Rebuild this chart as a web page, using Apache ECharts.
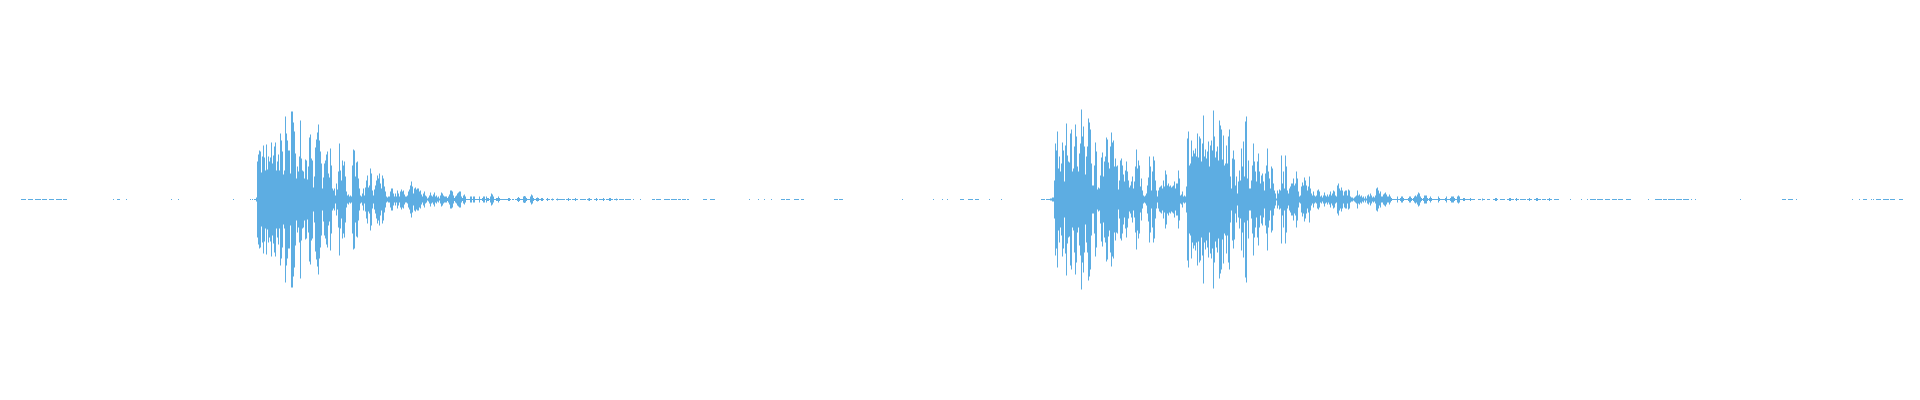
<!DOCTYPE html>
<html>
<head>
<meta charset="utf-8">
<script src="https://cdn.jsdelivr.net/npm/echarts@6/dist/echarts.min.js"></script>
<style>
  html, body { margin: 0; padding: 0; background: #ffffff; }
  #chart { width: 1920px; height: 400px; }
</style>
</head>
<body>
<div id="chart"></div>
<script>
// Waveform peak amplitudes (one value per time column)
const burst1Start = 256;
const burst1 = [
  2,38,45,49,48,27,43,54,42,29,
  55,30,43,38,42,57,36,44,53,57,
  29,38,45,29,66,59,48,25,29,83,
  66,59,49,49,26,88,88,77,68,46,
  21,33,28,43,79,41,29,28,21,40,
  39,20,33,62,65,41,39,12,23,52,
  60,67,75,59,48,36,11,22,36,39,
  45,48,26,22,51,34,11,9,11,4,
  16,10,28,56,
  29,19,39,34,38,23,8,4,5,3,
  4,3,34,50,49,23,37,38,21,11,
  4,3,6,11,4,12,19,24,12,14,
  31,26,9,4,10,14,19,24,21,26,
  16,11,24,21,13,8,3,2,3,3,
  8,11,11,6,3,6,3,9,6,3,
  8,10,8,9,5,3,3,4,8,10,
  14,18,13,6,11,12,10,11,11,8,
  9,5,3,6,8,4,3,1,2,4,
  7,4,3,5,7,3,4,2,3,1,
  4,7,6,4,3,3,3,1.5,3,5,
  9,9,8,4,1.5,3,4,6,7,8,
  8,3,1.5,4,5,3,0.5,0.5,0.5,0.5,
  3,3,0.5,3,3,0.5,0.5,0.5,0.5,3,
  0.5,0.5,1.5,3,3,0.5,3,1.5,1.5,0.5,
  3,6,5,3,0.5,0.5,1.5,1.5,3,1.5,
  0.5,0.5,0.5,0.5,0.5,0.5,
  0.5,0.5,1.5,1.5,0.5,0,0.5,0.5,0,0.5,
  0.5,1.5,2.5,1.5,0.5,0.5,0.5,3,3.5,3,
  1.5,0.5,0.5,0.5,3,5,4,1.5,0.5,0.5,
  1.5,2,1.5,0.5,0.5,1.5,1.5,0.5,0,0,
  0.5,1.5,0.5,0.5,0,0.5,1,0.5,0,0,
  0.5,1,0.5,0.5,0.5,0.5,0.5,0.5,0.5,0,
  0.5,0.5,1.5,0.5,0.5,0,0.5,0.5,0.5,1.5,
  0.5,0.5,0,0,0.5,0.5,0.5,0.5,0.5,0.5,
  0,0.5,1,1.5,0.5,0.5,0,0,0.5,0.5,
  1.5,0.5,0,0.5,0.5,0.5,0.5,1.5,0.5,0,
  0.5,0.5,0.5,1.5,1.5,0.5,0.5,0,0.5,0.5,
  1,0.5,0,0.5,0.5,0.5,0.5,0.5,0,0.5,
  0.5,0.5,0.5,0.5,0.5,0,0,0.5
];

const burst2Start = 1050;
const burst2 = [
  1,1,2,2,
  19,56,49,68,31,43,28,36,57,49,
  18,54,76,44,38,37,66,70,28,31,
  53,75,63,33,28,46,56,90,63,73,
  53,25,43,53,81,77,70,36,14,14,
  34,57,48,10,12,11,24,42,47,23,
  38,43,62,60,37,31,53,67,57,59,
  33,41,33,34,10,19,39,41,34,25,
  18,29,38,28,19,12,14,18,23,11,
  18,33,50,31,39,34,13,21,9,4,
  3,4,6,14,22,43,33,9,28,43,
  39,19,9,3,9,12,13,14,11,19,
  13,29,25,14,16,13,14,12,13,14,
  18,11,16,16,29,21,4,5,8,3,
  4,3,13,61,68,34,36,59,43,49,
  46,51,43,66,42,63,61,38,56,84,
  43,50,41,48,58,33,54,59,49,89,
  63,42,48,53,39,79,74,70,40,64,
  34,36,54,36,63,70,23,11,41,49,
  40,14,23,6,18,29,
  19,51,33,58,23,78,83,21,39,11,
  11,19,34,56,38,28,18,38,46,28,
  16,24,26,18,9,26,34,51,28,21,
  11,33,31,16,9,6,1,9,6,10,
  9,44,16,28,11,44,33,9,6,11,
  13,16,16,21,14,16,28,21,8,3,
  4,13,17,14,22,19,14,9,13,23,
  11,6,4,8,4,3,4,9,10,8,
  3,4,2,4,7,4,3,5,3,5,
  8,4,6,9,8,4,3,14,16,11,
  9,12,9,4,8,9,9,4,10,9,
  3,2,2,1,2,3,4,9,4,5,
  3,4,2,3,1,3,1,4,5,3,
  6,4,2,3,2,4,11,12,9,6,
  8,3,3,5,6,7,5,3,3,5,
  3,1.5,0.5,0.5,0.5,0.5,0.5,3,0.5,0.5,
  1.5,3,3,1.5,0.5,0.5,0.5,0.5,1.5,3,
  3,1.5,0.5,1.5,3,4,3,5,7,6,
  3,1.5,0.5,1.5,4,4,4,1.5,0.5,1.5,
  3,1.5,0.5,0.5,0.5,0.5,0.5,0.5,3,1.5,
  0.5,0.5,0.5,0.5,0.5,1.5,3,0.5,0.5,0.5,
  1.5,3,3,3,1.5,0.5,0.5,3,4,3,
  0.5,0.5,0.5,1.5,1.5,0.5,0.5,0.5,0.5,0.5,
  1.5,0.5,0.5,0.5,0.5,0,0,0,0.5,0.5,
  0.5,0,1,0.5,0.5,0,0,0.5,0.5,0.5,
  0,0,0,0.5,0.5,1.5,1.5,0.5,0,0,
  0.5,0.5,0.5,0.5,0.5,0,0,0.5,0.5,1.5,
  1.5,0.5,0.5,0.5,0,0.5,1.5,0.5,0.5,0,
  0.5,0.5,0.5,0.5,0.5,0.5,0,0.5,0.5,1.5,
  0.5,0.5,0,0,0.5,0.5,1.5,1.5,0.5,0.5,
  0.5,0,0.5,0.5,0.5,0.5,0,0.5,0.5,1.5,
  0.5,0.5,0,0,0.5,0.5,0.5,0.5,0.5
];

// Near-silent stretches: [first column, last column]
const quietLevel = 0.5;
const quietRuns = [
  [21,25],[28,32],[35,40],[42,46],[49,53],[56,61],[63,66],
  [113,113],[117,119],[126,126],[171,171],[178,178],[233,233],
  [250,250],[252,252],[254,255],
  [640,640],[652,654],[656,660],[664,669],[671,676],[678,680],[682,685],[687,688],
  [703,706],[710,714],[749,749],[758,758],[764,764],[771,771],
  [781,784],[786,789],[794,798],[801,803],[834,837],[839,842],
  [902,902],[933,933],[942,942],[947,947],[960,963],[968,972],[975,978],
  [989,989],[1001,1001],[1041,1044],[1046,1049],
  [1570,1570],[1581,1581],[1587,1587],[1590,1595],[1597,1602],[1605,1609],
  [1612,1616],[1618,1622],[1626,1630],[1648,1648],[1655,1661],[1663,1666],
  [1668,1674],[1676,1681],[1683,1688],[1691,1691],[1695,1695],[1740,1740],
  [1782,1785],[1788,1792],[1796,1796],[1852,1852],[1859,1859],[1863,1866],
  [1871,1871],[1873,1873],[1876,1880],[1883,1888],[1890,1894],[1899,1902]
];

// One mark per time column: [time, peak amplitude]
const columns = [];
function addColumn(t, a) { if (a > 0) columns.push([t + 0.5, a]); }
burst1.forEach((a, i) => addColumn(burst1Start + i, a));
burst2.forEach((a, i) => addColumn(burst2Start + i, a));
quietRuns.forEach(([s, e]) => { for (let t = s; t <= e; t++) addColumn(t, quietLevel); });

const color = '#5DADE2';
const chart = echarts.init(document.getElementById('chart'), null, { renderer: 'canvas' });
chart.setOption({
  animation: false,
  backgroundColor: '#ffffff',
  grid: { left: 0, right: 0, top: 99.5, height: 200 },
  xAxis: { type: 'value', min: 0, max: 1920, show: false },
  yAxis: { type: 'value', min: -100, max: 100, show: false },
  series: [{
    type: 'custom',
    data: columns,
    encode: { x: 0, y: 1 },
    silent: true,
    renderItem: function (params, api) {
      const t = api.value(0);
      const a = api.value(1);
      const top = api.coord([t, a]);
      const bottom = api.coord([t, -a]);
      const w = api.size([1, 0])[0];
      return {
        type: 'rect',
        shape: { x: top[0] - w / 2, y: top[1], width: w, height: bottom[1] - top[1] },
        style: { fill: color }
      };
    }
  }]
});
</script>
</body>
</html>
